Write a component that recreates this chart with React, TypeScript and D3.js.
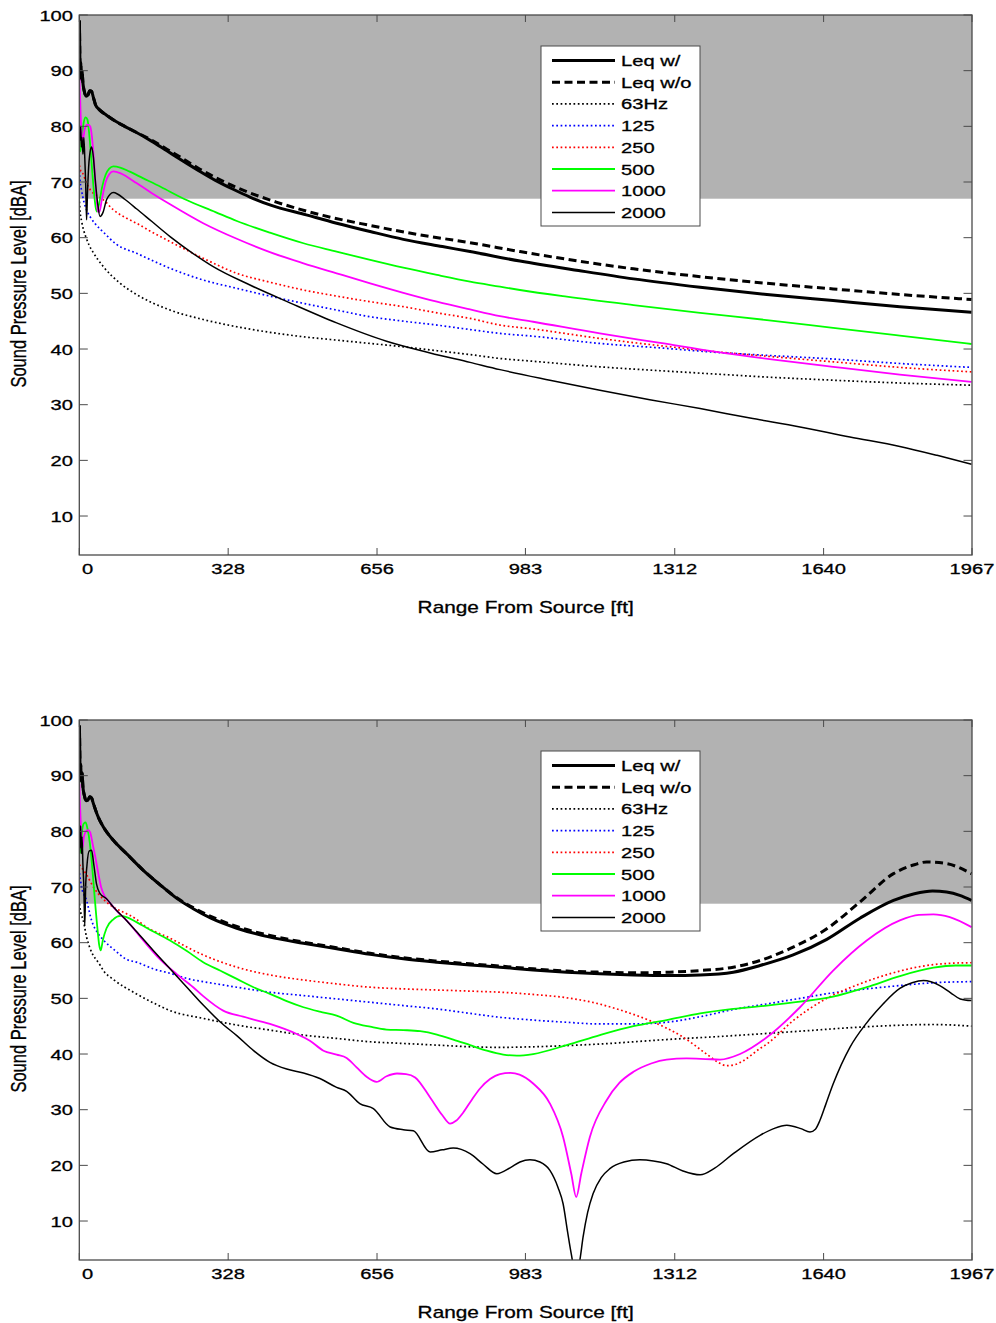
import React from 'react';
import * as d3 from 'd3';

type Pt = [number, number];

// Axis ticks and labels
const rangeTickValues = [0, 328, 656, 983, 1312, 1640, 1967];
const levelTickValues = [10, 20, 30, 40, 50, 60, 70, 80, 90, 100];
const seriesNames = ['Leq w/', 'Leq w/o', '63Hz', '125', '250', '500', '1000', '2000'];
const limitLevel = 67;
const rangeDomain: [number, number] = [0, 1967];
const levelDomain: [number, number] = [3, 100];

// ---- Upper panel: [range ft, level dBA] ----
const topLeqWith: Pt[] = [
  [0.3, 99], [1, 94], [2, 90], [3, 91.5], [4.5, 88.5], [6, 90], [8, 87.8], [11, 86.3], [15, 85.4],
  [19, 85.6], [23, 86.4], [27, 86.3], [31, 85.2], [36, 83.8], [44, 83.0], [60, 82.0], [80, 80.9],
  [100, 80.0], [119, 79.2], [160, 77.3], [193, 75.6], [230, 73.7], [266, 71.9], [300, 70.3],
  [339, 68.7], [376, 67.3], [420, 65.9], [500, 64.1], [567, 62.6], [641, 61.1], [714, 59.7],
  [800, 58.4], [861, 57.5], [971, 55.8], [1100, 54.1], [1221, 52.6], [1368, 51.1], [1515, 49.8],
  [1661, 48.7], [1808, 47.6], [1966, 46.6],
];
const topLeqWithout: Pt[] = [
  [0.3, 99], [1, 94], [2, 90], [3, 91.5], [4.5, 88.5], [6, 90], [8, 87.8], [11, 86.3], [15, 85.4],
  [19, 85.6], [23, 86.4], [27, 86.3], [31, 85.2], [36, 83.8], [44, 83.0], [60, 82.0], [80, 80.9],
  [100, 80.0], [119, 79.2], [160, 77.5], [193, 75.9], [230, 74.1], [266, 72.3], [300, 70.8],
  [347, 69.0], [434, 66.4], [537, 64.0], [641, 62.2], [751, 60.5], [861, 59.1], [971, 57.5],
  [1100, 55.8], [1221, 54.4], [1368, 53.0], [1515, 51.8], [1661, 50.8], [1808, 49.8], [1966, 48.9],
];
const top63: Pt[] = [
  [0.3, 66.5], [2, 64.5], [5, 63], [9, 61.5], [15, 60], [22, 58.6], [31, 57.3], [53, 54.8],
  [90, 51.8], [126, 49.8], [200, 47.0], [273, 45.3], [347, 44.0], [420, 43.0], [494, 42.2],
  [567, 41.6], [641, 41.0], [714, 40.4], [788, 39.7], [861, 39.0], [927, 38.3], [1000, 37.8],
  [1147, 36.8], [1280, 36.1], [1404, 35.5], [1530, 34.9], [1661, 34.4], [1808, 33.9], [1966, 33.5],
];
const top125: Pt[] = [
  [0.3, 72], [2, 70], [5, 68.5], [10, 66.5], [16, 65], [25, 63.6], [35, 62.5], [53, 61],
  [82, 58.8], [126, 57.2], [200, 54.5], [273, 52.4], [347, 50.9], [420, 49.5], [494, 48.2],
  [567, 47.0], [641, 45.8], [714, 45.0], [788, 44.3], [861, 43.5], [927, 42.8], [1000, 42.3],
  [1147, 41.0], [1280, 40.2], [1404, 39.4], [1530, 38.8], [1661, 38.2], [1808, 37.4], [1966, 36.7],
];
const top250: Pt[] = [
  [0.3, 73], [3, 72], [8, 71.5], [15, 70], [25, 68.5], [40, 67.5], [53, 66.8], [75, 65],
  [104, 63.5], [126, 62.6], [160, 61], [200, 59.3], [273, 56.3], [347, 53.6], [420, 52.0],
  [494, 50.6], [567, 49.5], [641, 48.5], [714, 47.6], [788, 46.5], [861, 45.5], [927, 44.3],
  [1000, 43.6], [1147, 41.9], [1280, 40.6], [1404, 39.5], [1530, 38.6], [1661, 37.7], [1808, 36.7],
  [1966, 35.9],
];
const top500: Pt[] = [
  [0.3, 76], [2, 75.5], [4, 76.5], [7, 79], [10, 80.8], [14, 81.6], [18, 81.2], [22, 78.5],
  [27, 73.5], [32, 68.5], [36, 65.5], [39, 64.7], [43, 65.8], [50, 69], [58, 71.3], [66, 72.4],
  [75, 72.8], [90, 72.6], [110, 71.9], [140, 70.7], [180, 69.1], [230, 67.0], [300, 64.6],
  [347, 63.0], [420, 60.9], [494, 59.0], [567, 57.5], [641, 56.0], [714, 54.6], [788, 53.3],
  [861, 52.1], [927, 51.2], [971, 50.6], [1074, 49.4], [1221, 47.9], [1368, 46.5], [1515, 45.2],
  [1661, 43.8], [1808, 42.4], [1966, 40.9],
];
const top1000: Pt[] = [
  [0.3, 88.5], [1.5, 86], [3, 82], [5, 79], [8, 77.5], [12, 79.5], [18, 80.3], [24, 80.0],
  [28, 78], [33, 73], [37, 68], [41, 64.8], [44, 64.6], [50, 67], [58, 70], [66, 71.4], [75, 71.9],
  [90, 71.6], [104, 71.0], [126, 69.8], [160, 68.0], [200, 66.0], [273, 62.6], [347, 59.8],
  [420, 57.4], [494, 55.4], [567, 53.6], [641, 51.8], [714, 50.1], [788, 48.5], [861, 47.1],
  [927, 45.9], [1000, 44.9], [1147, 42.8], [1280, 41.1], [1404, 39.5], [1530, 38.1], [1661, 36.8],
  [1808, 35.4], [1966, 34.1],
];
const top2000: Pt[] = [
  [0.3, 79], [1.5, 77.5], [3, 80], [4.5, 76.3], [6, 78], [8, 75], [10, 78], [12, 74.5], [14, 70],
  [16, 63.2], [18, 68], [20.6, 72.7], [24, 75.5], [27.2, 76.3], [31, 74.5], [34.5, 71.0], [40, 66.5],
  [45.6, 63.8], [52, 64.5], [60, 66.8], [68, 67.8], [75, 68.1], [85, 67.8], [100, 66.9], [126, 65.2],
  [160, 62.9], [200, 60.2], [250, 57.2], [295, 54.8], [376, 51.5], [464, 48.3], [567, 44.7],
  [677, 41.4], [773, 39.3], [861, 37.6], [927, 36.3], [1037, 34.4], [1147, 32.6], [1257, 30.9],
  [1368, 29.3], [1478, 27.6], [1588, 26.0], [1698, 24.2], [1808, 22.5], [1890, 20.9], [1966, 19.3],
];

// ---- Lower panel ----
const botLeqWith: Pt[] = [
  [0.3, 99], [1, 95], [2, 90.5], [3, 92], [4.5, 89], [6, 90.5], [8, 88], [11, 86.5], [15, 85.5],
  [19, 85.6], [23, 86.2], [27, 86], [31, 85], [36, 83.8], [42, 82.5], [53, 80.8], [75, 78.4],
  [104, 76.0], [141, 73.0], [178, 70.4], [214, 68.0], [251, 66.1], [290, 64.4], [347, 62.6],
  [420, 61.0], [494, 59.9], [567, 58.9], [641, 57.9], [714, 57.1], [788, 56.5], [861, 56.0],
  [927, 55.6], [1000, 55.1], [1074, 54.7], [1147, 54.4], [1221, 54.2], [1300, 54.1], [1368, 54.2],
  [1441, 54.7], [1500, 55.9], [1573, 57.8], [1647, 60.6], [1720, 64.4], [1794, 67.6], [1840, 68.8],
  [1880, 69.3], [1911, 69.1], [1940, 68.5], [1966, 67.6],
];
const botLeqWithout: Pt[] = [
  [0.3, 99], [1, 95], [2, 90.5], [3, 92], [4.5, 89], [6, 90.5], [8, 88], [11, 86.5], [15, 85.5],
  [19, 85.6], [23, 86.2], [27, 86], [31, 85], [36, 83.8], [42, 82.5], [53, 80.8], [75, 78.4],
  [104, 76.0], [141, 73.0], [178, 70.4], [214, 68.1], [251, 66.3], [347, 62.9], [420, 61.3],
  [494, 60.1], [567, 59.1], [641, 58.1], [714, 57.3], [788, 56.7], [861, 56.2], [927, 55.8],
  [1000, 55.3], [1074, 54.9], [1147, 54.7], [1221, 54.6], [1300, 54.7], [1368, 55.0], [1441, 55.6],
  [1500, 56.8], [1573, 59.2], [1647, 62.5], [1720, 67.3], [1794, 72.4], [1840, 74.0], [1867, 74.5],
  [1911, 74.2], [1966, 72.4],
];
const bot63: Pt[] = [
  [0.3, 67], [3, 65.5], [8.8, 64.0], [16, 61], [23.6, 59.0], [45.6, 56.0], [53, 55.0], [75, 53.4],
  [126, 50.8], [178, 48.6], [200, 47.8], [273, 46.4], [347, 45.2], [420, 44.3], [494, 43.4],
  [567, 42.8], [641, 42.2], [714, 41.9], [788, 41.6], [861, 41.3], [927, 41.2], [1000, 41.3],
  [1147, 41.8], [1294, 42.6], [1441, 43.3], [1588, 44.1], [1735, 44.9], [1882, 45.3], [1966, 45.0],
];
const bot125: Pt[] = [
  [0.3, 72.5], [5, 70], [16, 67.6], [27, 64], [40, 61.8], [53, 60.5], [80, 58.5], [104, 57.0],
  [126, 56.5], [163, 55.3], [200, 54.5], [251, 53.3], [273, 53.0], [347, 52.0], [420, 51.1],
  [494, 50.5], [567, 49.9], [641, 49.3], [714, 48.7], [788, 48.1], [861, 47.3], [927, 46.6],
  [1000, 46.1], [1074, 45.7], [1147, 45.4], [1221, 45.4], [1294, 45.7], [1368, 46.7], [1441, 48.0],
  [1515, 49.0], [1588, 50.0], [1661, 51.0], [1735, 51.7], [1808, 52.3], [1882, 52.8], [1966, 53.0],
];
const bot250: Pt[] = [
  [0.3, 74], [5, 73.5], [16, 72.2], [31, 70.0], [53, 67.8], [75, 66.4], [104, 65.2], [126, 64.2],
  [141, 63.2], [200, 60.8], [273, 57.8], [347, 55.6], [420, 54.2], [494, 53.3], [567, 52.6],
  [641, 52.0], [714, 51.7], [788, 51.5], [861, 51.3], [927, 51.1], [1000, 50.7], [1074, 50.1],
  [1130, 49.3], [1184, 48.1], [1257, 46.0], [1331, 43.0], [1382, 40.0], [1410, 38.4], [1426, 37.9],
  [1445, 38.1], [1463, 38.8], [1500, 41.0], [1515, 41.8], [1573, 46.0], [1647, 50.0], [1720, 52.6],
  [1794, 54.6], [1867, 55.9], [1920, 56.3], [1966, 56.4],
];
const bot500: Pt[] = [
  [0.3, 76], [3, 77], [6, 80], [10, 81.4], [14, 81.6], [18, 80.5], [23, 78.0], [28, 74], [34, 68],
  [40, 62.5], [44, 59.5], [47, 58.6], [52, 60.5], [60, 62.6], [75, 64.2], [90, 64.8], [104, 64.6],
  [126, 63.7], [163, 62.0], [200, 60.4], [237, 58.5], [273, 56.5], [310, 55.0], [347, 53.5],
  [384, 52.0], [420, 50.8], [457, 49.5], [494, 48.4], [530, 47.6], [567, 46.9], [604, 45.6],
  [641, 44.9], [677, 44.4], [714, 44.3], [751, 44.1], [788, 43.5], [824, 42.6], [861, 41.6],
  [898, 40.6], [934, 39.9], [964, 39.7], [1000, 40.0], [1074, 41.6], [1147, 43.4], [1221, 45.0],
  [1294, 46.1], [1368, 47.3], [1441, 48.1], [1515, 48.7], [1588, 49.4], [1661, 50.3], [1735, 52.0],
  [1808, 54.0], [1882, 55.5], [1930, 55.9], [1966, 55.9],
];
const bot1000: Pt[] = [
  [0.3, 88.5], [1.5, 85], [3, 82], [5, 78], [7, 77], [10, 79], [15, 80], [20, 80.2], [24, 79.8],
  [30, 77.5], [35, 75.5], [42, 72.4], [48, 70], [55, 68.5], [67, 67.2], [85, 65.5], [104, 64.0],
  [141, 60.4], [178, 57.0], [214, 54.4], [251, 52.0], [273, 50.4], [317, 47.8], [361, 46.7],
  [420, 45.4], [479, 43.6], [508, 42.4], [538, 40.6], [567, 39.9], [589, 39.3], [611, 37.6],
  [633, 35.9], [655, 35.0], [677, 36.0], [700, 36.5], [720, 36.4], [740, 35.8], [773, 32.2],
  [800, 29], [817, 27.5], [830, 28.0], [846, 29.5], [865, 31.8], [883, 33.8], [905, 35.5],
  [927, 36.4], [950, 36.6], [970, 36.3], [1000, 34.7], [1037, 31.1], [1066, 25.1], [1084, 18.5],
  [1095, 14.3], [1106, 18.5], [1125, 25.1], [1162, 31.7], [1190, 34.8], [1221, 36.8], [1260, 38.3],
  [1294, 39.0], [1338, 39.2], [1380, 39.1], [1412, 39.0], [1456, 40.0], [1515, 43.0], [1588, 48.4],
  [1661, 55.0], [1735, 60.4], [1808, 64.0], [1850, 65.0], [1882, 65.1], [1918, 64.6], [1966, 62.8],
];
const bot2000: Pt[] = [
  [0.3, 80], [1.5, 77], [3, 81], [4.5, 76], [6, 79], [8, 74], [10, 70], [12, 63], [14, 70], [17, 74],
  [22, 76.5], [27, 76.6], [32, 74], [38, 70.5], [45, 68.9], [60, 67.9], [75, 66.4], [104, 64.0],
  [126, 62.0], [163, 58.6], [200, 55.3], [237, 52.0], [273, 48.8], [310, 45.8], [347, 43.3],
  [384, 40.6], [420, 38.5], [457, 37.3], [494, 36.6], [530, 35.6], [567, 34.0], [589, 33.3],
  [618, 31.1], [648, 30.2], [685, 26.9], [714, 26.4], [736, 26.2], [773, 22.4], [800, 22.8],
  [824, 23.1], [861, 22.1], [890, 20.2], [920, 18.5], [950, 19.6], [971, 20.6], [993, 21.0],
  [1015, 20.6], [1037, 19.1], [1055, 16], [1066, 13.1], [1076, 8], [1084, 4.1], [1095, 0],
  [1103, 3], [1110, 7.1], [1120, 11.5], [1132, 14.9], [1150, 17.8], [1169, 19.4], [1200, 20.6],
  [1235, 21.0], [1265, 20.8], [1294, 20.3], [1330, 19.0], [1368, 18.3], [1400, 19.5], [1441, 22.1],
  [1500, 25.4], [1530, 26.6], [1559, 27.2], [1590, 26.6], [1610, 26.0], [1622, 26.5], [1632, 28.1],
  [1645, 31], [1661, 34.6], [1698, 41.2], [1735, 45.6], [1771, 49.0], [1808, 51.8], [1835, 52.8],
  [1860, 53.2], [1896, 52.3], [1920, 51.0], [1941, 49.9], [1966, 49.6],
];

// Line appearance per series, in legend order
const seriesStyles = [
  { color: '#000000', width: 3, dash: undefined as string | undefined },
  { color: '#000000', width: 3, dash: '8,4.5' },
  { color: '#000000', width: 1.7, dash: '1.7,2.6' },
  { color: '#0000ff', width: 1.7, dash: '1.7,2.6' },
  { color: '#ff0000', width: 1.7, dash: '1.7,2.6' },
  { color: '#00ff00', width: 1.8, dash: undefined },
  { color: '#ff00ff', width: 1.8, dash: undefined },
  { color: '#000000', width: 1.5, dash: undefined },
];

const topSeries = [topLeqWith, topLeqWithout, top63, top125, top250, top500, top1000, top2000];
const bottomSeries = [botLeqWith, botLeqWithout, bot63, bot125, bot250, bot500, bot1000, bot2000];

const FONT = "'Liberation Sans', Arial, Helvetica, sans-serif";
const LEFT = 79.3;
const RIGHT = 972;
const PLOT_H = 540;
const STRETCH = 1.3;
const AXIS_COLOR = '#4a4a4a';

function WideText(props: {
  x: number; y: number; size: number; anchor?: string; children: React.ReactNode;
}) {
  const { x, y, size, anchor = 'start', children } = props;
  return (
    <text
      transform={`translate(${x},${y}) scale(${STRETCH},1)`}
      fontSize={size}
      fontFamily={FONT}
      textAnchor={anchor as any}
      fill="#000"
      stroke="#000"
      strokeWidth={0.3}
    >
      {children}
    </text>
  );
}

function Panel({ top, series, id }: { top: number; series: Pt[][]; id: string }) {
  const x = d3.scaleLinear().domain(rangeDomain).range([LEFT, RIGHT]);
  const y = d3.scaleLinear().domain(levelDomain).range([top + PLOT_H, top]);
  const line = d3
    .line<Pt>()
    .x((d) => x(d[0]))
    .y((d) => y(d[1]))
    .curve(d3.curveMonotoneX);

  const bottom = top + PLOT_H;
  const legendX = 541;
  const legendY = top + 31;
  const legendW = 159;
  const legendH = 180;
  const rowGap = 21.7;

  return (
    <g>
      <defs>
        <clipPath id={id}>
          <rect x={LEFT} y={top} width={RIGHT - LEFT} height={PLOT_H} />
        </clipPath>
      </defs>
      <rect x={LEFT} y={y(100)} width={RIGHT - LEFT} height={y(limitLevel) - y(100)} fill="#b2b2b2" />
      <g clipPath={`url(#${id})`}>
        {series.map((s, i) => (
          <path
            key={i}
            d={line(s) || ''}
            fill="none"
            stroke={seriesStyles[i].color}
            strokeWidth={seriesStyles[i].width}
            strokeDasharray={seriesStyles[i].dash}
            strokeLinejoin="round"
          />
        ))}
      </g>
      {/* axes box with inward ticks on all sides */}
      <rect x={LEFT} y={top} width={RIGHT - LEFT} height={PLOT_H} fill="none" stroke={AXIS_COLOR} strokeWidth={1.3} />
      {rangeTickValues.map((t) => (
        <g key={`xt${t}`} stroke={AXIS_COLOR} strokeWidth={1}>
          <line x1={x(t)} x2={x(t)} y1={bottom} y2={bottom - 7} />
          <line x1={x(t)} x2={x(t)} y1={top} y2={top + 7} />
        </g>
      ))}
      {levelTickValues.map((t) => (
        <g key={`yt${t}`} stroke={AXIS_COLOR} strokeWidth={1}>
          <line x1={LEFT} x2={LEFT + 8.5} y1={y(t)} y2={y(t)} />
          <line x1={RIGHT} x2={RIGHT - 8.5} y1={y(t)} y2={y(t)} />
        </g>
      ))}
      {rangeTickValues.map((t, i) => (
        <WideText key={`xl${t}`} x={x(t) + (i === 0 ? 8.4 : 0)} y={bottom + 19} size={15.5} anchor="middle">
          {String(t)}
        </WideText>
      ))}
      {levelTickValues.map((t) => (
        <WideText key={`yl${t}`} x={73} y={y(t) + 5.5} size={15.5} anchor="end">
          {String(t)}
        </WideText>
      ))}
      <WideText x={(LEFT + RIGHT) / 2} y={bottom + 58} size={16} anchor="middle">
        Range From Source [ft]
      </WideText>
      <text
        transform={`translate(26,${top + PLOT_H / 2 - 1}) rotate(-90) scale(1,${STRETCH})`}
        fontSize={16.5}
        fontFamily={FONT}
        textAnchor="middle"
        fill="#000"
        stroke="#000"
        strokeWidth={0.25}
      >
        Sound Pressure Level [dBA]
      </text>
      {/* legend */}
      <rect x={legendX} y={legendY} width={legendW} height={legendH} fill="#fff" stroke={AXIS_COLOR} strokeWidth={1} />
      {seriesNames.map((name, i) => {
        const ry = legendY + 14.5 + i * rowGap;
        const st = seriesStyles[i];
        return (
          <g key={name}>
            <line
              x1={552}
              x2={615}
              y1={ry}
              y2={ry}
              stroke={st.color}
              strokeWidth={st.width}
              strokeDasharray={st.dash}
            />
            <WideText x={621} y={ry + 5.5} size={15.5}>
              {name}
            </WideText>
          </g>
        );
      })}
    </g>
  );
}

export default function App() {
  return (
    <svg
      width={996}
      height={1323}
      viewBox="0 0 996 1323"
      style={{ position: 'absolute', left: 0, top: 0, background: '#fff', display: 'block' }}
    >
      <rect width={996} height={1323} fill="#fff" />
      <Panel top={15} series={topSeries} id="clip-upper" />
      <Panel top={720} series={bottomSeries} id="clip-lower" />
    </svg>
  );
}
